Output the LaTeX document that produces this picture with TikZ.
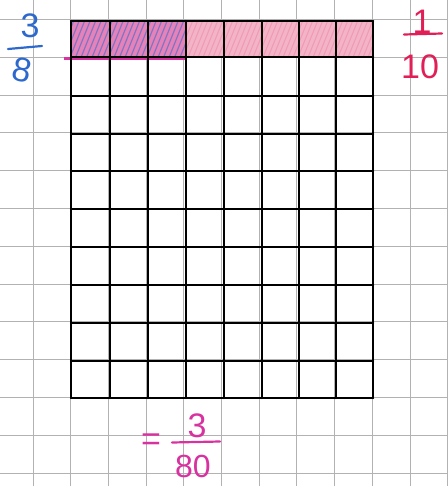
\documentclass[tikz,border=0pt]{standalone}
\usepackage{fontspec}
\setmainfont{Liberation Sans}
\definecolor{papergrey}{RGB}{178,178,178}
\definecolor{bluepen}{RGB}{45,105,205}
\definecolor{redpen}{RGB}{225,30,85}
\definecolor{magpen}{RGB}{215,50,160}
\definecolor{pinklight}{RGB}{243,180,200}
\definecolor{pinkdeep}{RGB}{228,130,185}
\begin{document}
\begin{tikzpicture}[x=1pt,y=-1pt,
  paper/.style={line width=0.9pt, draw=papergrey},
  ink/.style={line width=2.5pt, draw=black, line cap=round},
  hand/.style={inner sep=0pt, font=\fontsize{34}{34}\selectfont},
  bluehatch/.style={draw=bluepen, line width=1.2pt, opacity=0.55},
  pinkhatch/.style={draw=redpen!70, line width=1.1pt, opacity=0.3},
]
\useasboundingbox (0,0) rectangle (447,486);
\fill[white] (0,0) rectangle (447,486);
% graph paper
\foreach \i in {0,...,11} \draw[paper] ({33+37.7*\i},0) -- ({33+37.7*\i},486);
\foreach \i in {0,...,12} \draw[paper] (0,{19.5+37.8*\i}) -- (447,{19.5+37.8*\i});
% shading of the first row
\fill[pinklight] (71,22) rectangle (373,57);
\fill[pinkdeep] (71,22) rectangle (186,57);
\begin{scope}
  \clip (71,22) rectangle (186,57);
  \foreach \i in {0,...,30} \draw[bluehatch] ({58+5.5*\i},60) -- ({74+5.5*\i},20);
\end{scope}
\begin{scope}
  \clip (186,22) rectangle (373,57);
  \foreach \i in {0,...,42} \draw[pinkhatch] ({172+5*\i},60) -- ({188+5*\i},20);
\end{scope}
\draw[draw=magpen, line width=3pt] (64,58.5) -- (186,58.5);
% black grid
\foreach \x in {71,110,148,186,224,262,299,336,373} \draw[ink] (\x,21) -- (\x,398);
\foreach \y in {21,57,96,134,171,209,247,285,323,361,398} \draw[ink] (71,\y) -- (373,\y);
% 3/8
\node[hand, text=bluepen] (n38) at (30,26) {3};
\draw[draw=bluepen, line width=2.2pt, line cap=round] (8,49) -- (42,46);
\node[hand, text=bluepen, rotate=-12] (d38) at (22,70) {8};
% 1/10
\node[hand, text=redpen] (n110) at (422,22) {1};
\draw[draw=redpen, line width=2.2pt, line cap=round] (404,34.5) -- (442,33.5);
\node[hand, text=redpen] (d110) at (420,67) {10};
% = 3/80
\node[hand, text=magpen] (eq) at (151,442) {=};
\node[hand, text=magpen] (n380) at (197,426) {3};
\draw[draw=magpen, line width=2.2pt, line cap=round] (172,442.5) -- (220,441.5);
\node[hand, text=magpen, font=\fontsize{32}{32}\selectfont] (d380) at (193,466) {80};
\end{tikzpicture}
\end{document}
